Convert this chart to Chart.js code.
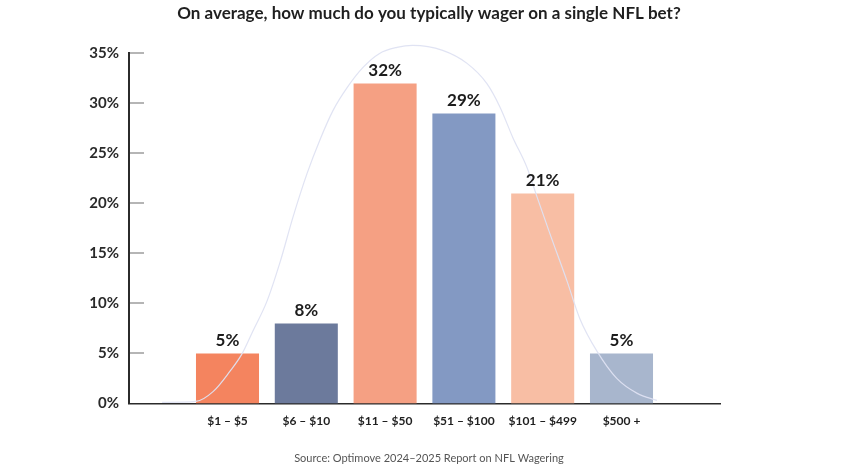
<!DOCTYPE html>
<html>
<head>
<meta charset="utf-8">
<title>NFL wager sizes</title>
<script src="https://cdn.jsdelivr.net/npm/chart.js@4"></script>
<style>
    html, body { margin: 0; padding: 0; background: #fff; }
    #wrap { width: 858px; height: 467px; }
</style>
</head>
<body>
<div id="wrap"><canvas id="wagerChart"></canvas></div>
<script>
const categories = ['$1 – $5', '$6 – $10', '$11 – $50', '$51 – $100', '$101 – $499', '$500 +'];
const shares = [5, 8, 32, 29, 21, 5];
const barColors = ['#F4845F', '#6C7A9C', '#F5A083', '#8399C3', '#F8BEA4', '#A8B6CD'];
const yTicks = [0, 5, 10, 15, 20, 25, 30, 35];

// decorative bell curve (x = category position, y = %)
const curveX = [-0.83, -0.40, -0.18, 0.03, 0.18, 0.32, 0.50, 0.67, 0.83, 1.01, 1.17, 1.34, 1.52, 1.72, 1.93, 2.15, 2.35,
                2.73, 3.04, 3.29, 3.46, 3.62, 3.80, 3.93, 4.09, 4.31, 4.47, 4.69, 4.94, 5.20, 5.45];
const curveY = [0.1, 0.2, 1.2, 3.2, 4.9, 7.2, 10.2, 14.2, 18.6, 23.0, 26.3, 29.3, 31.6, 33.6, 35.0, 35.6, 35.8,
                35.3, 34.0, 32.0, 29.6, 26.6, 23.6, 20.6, 17.0, 12.2, 8.5, 5.2, 2.5, 1.0, 0.3];

const titleText = 'On average, how much do you typically wager on a single NFL bet?';
const sourceText = 'Source: Optimove 2024–2025 Report on NFL Wagering';

const FONT = 'Lato, "Open Sans", sans-serif';

// short grey tick marks inside the plot + value labels over the bars
const extrasPlugin = {
    id: 'extras',
    afterDraw(chart) {
        const ctx = chart.ctx;
        const y = chart.scales.y;
        const area = chart.chartArea;
        ctx.save();
        ctx.strokeStyle = '#b5b5b5';
        ctx.lineWidth = 2;
        yTicks.forEach(t => {
            if (t === 0) return;
            const py = Math.round(y.getPixelForValue(t));
            ctx.beginPath();
            ctx.moveTo(area.left + 1, py);
            ctx.lineTo(area.left + 15, py);
            ctx.stroke();
        });

        const meta = chart.getDatasetMeta(1);
        ctx.fillStyle = '#1c1c1c';
        ctx.font = 'bold 17px ' + FONT;
        ctx.textAlign = 'center';
        ctx.textBaseline = 'bottom';
        meta.data.forEach((bar, i) => {
            ctx.fillText(shares[i] + '%', bar.x, bar.y - 4);
        });
        ctx.restore();
    }
};

const ctx = document.getElementById('wagerChart');
new Chart(ctx, {
    data: {
        datasets: [
            {
                type: 'line',
                data: curveX.map((x, i) => ({ x: x, y: curveY[i] })),
                borderColor: 'rgba(222, 226, 242, 0.95)',
                borderWidth: 1.2,
                pointRadius: 0,
                cubicInterpolationMode: 'monotone',
                clip: false,
                order: 0
            },
            {
                type: 'bar',
                data: shares.map((v, i) => ({ x: i, y: v })),
                backgroundColor: barColors,
                borderWidth: 0,
                barPercentage: 0.8,
                categoryPercentage: 1,
                order: 1
            }
        ]
    },
    options: {
        responsive: true,
        maintainAspectRatio: false,
        animation: false,
        layout: { padding: 0 },
        plugins: {
            legend: { display: false },
            tooltip: { enabled: false },
            title: {
                display: true,
                text: titleText,
                color: '#1f1f1f',
                font: { family: FONT, size: 17, weight: 'bold' },
                padding: { top: 3, bottom: 30 }
            },
            subtitle: {
                display: true,
                position: 'bottom',
                text: sourceText,
                color: '#555',
                font: { family: FONT, size: 11 },
                padding: { top: 12, bottom: 2 }
            }
        },
        scales: {
            x: {
                type: 'linear',
                offset: false,
                min: -1.25,
                max: 6.25,
                grid: { display: false, drawTicks: false },
                border: { display: true, color: '#2b2b2b', width: 1.5 },
                afterBuildTicks: (scale) => {
                    scale.ticks = categories.map((_, i) => ({ value: i }));
                },
                ticks: {
                    autoSkip: false,
                    maxRotation: 0,
                    padding: 11,
                    color: '#1f1f1f',
                    font: { family: FONT, size: 12, weight: 'bold' },
                    callback: (v) => categories[v]
                }
            },
            y: {
                min: 0,
                max: 35,
                grid: { display: false, drawTicks: false },
                border: { display: true, color: '#2b2b2b', width: 2 },
                afterFit: (scale) => { scale.width = 129; },
                afterBuildTicks: (scale) => {
                    scale.ticks = yTicks.map(t => ({ value: t }));
                },
                ticks: {
                    padding: 10,
                    color: '#2a2a2a',
                    font: { family: FONT, size: 15, weight: 'bold' },
                    callback: (v) => v + '%'
                }
            },
            // empty right-hand axis, only keeps the white margin on the right
            spacer: {
                position: 'right',
                min: 0,
                max: 35,
                grid: { display: false, drawTicks: false },
                border: { display: false },
                ticks: { display: false },
                afterFit: (scale) => { scale.width = 138; }
            }
        }
    },
    plugins: [extrasPlugin]
});
</script>
</body>
</html>
